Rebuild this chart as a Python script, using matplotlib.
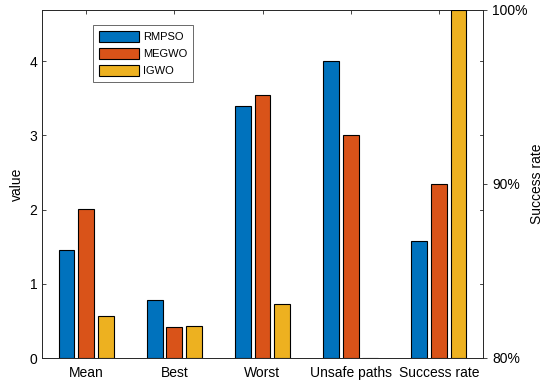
import matplotlib
matplotlib.use("Agg")
import matplotlib.pyplot as plt
import numpy as np

plt.rcParams['font.family'] = ['Liberation Sans', 'DejaVu Sans']

categories = ["Mean", "Best", "Worst", "Unsafe paths", "Success rate"]
series = ["RMPSO", "MEGWO", "IGWO"]
colors = ["#0072BD", "#D95319", "#EDB120"]
# values for the first four categories (left axis)
rmpso = [1.45, 0.785, 3.39, 4.0]
megwo = [2.01, 0.42, 3.54, 3.0]
igwo = [0.566, 0.425, 0.73, 0.0]
# success rate (right axis, %)
success = [86.7, 90.0, 100.0]

dark = "#262626"
fig = plt.figure(figsize=(5.5, 3.83), dpi=100)
W, H = 550, 383
ax = fig.add_axes([42 / W, 1 - 358 / H, (483 - 42) / W, (358 - 10) / H])
ax2 = ax.twinx()

x = np.arange(1, 6)
bw = 0.178
offs = [-0.222, 0.0, 0.222]
left_vals = [rmpso, megwo, igwo]
for i in range(3):
    ax.bar(x[:4] + offs[i], left_vals[i], width=bw, color=colors[i],
           edgecolor="black", linewidth=0.8, label=series[i], zorder=3)
    ax2.bar(x[4] + offs[i], success[i] - 80, bottom=80, width=bw, color=colors[i],
            edgecolor="black", linewidth=0.8, zorder=3)

ax.set_xlim(0.5, 5.5)
ax.set_ylim(0, 4.687)
ax.set_yticks([0, 1, 2, 3, 4])
ax.set_xticks(x)
ax.set_xticklabels(categories)
ax.tick_params(axis='both', direction='in', length=3, colors=dark, labelsize=10,
               top=True, right=False, width=0.6)
ax.tick_params(axis='x', pad=6, labelcolor='black')
ax.tick_params(axis='y', labelcolor='black')
ax.set_ylabel("value", fontsize=10, color='black')

ax2.set_ylim(80, 100)
ax2.set_yticks([80, 90, 100])
ax2.set_yticklabels(["80%", "90%", "100%"])
ax2.tick_params(axis='y', direction='out', length=3, colors=dark, labelsize=10,
                labelcolor='black', width=0.6)
ax2.set_ylabel("Success rate", fontsize=10, color='black', labelpad=2)

# mirrored left-axis ticks on right side (inward)
for v in [1, 2, 3, 4]:
    ax.plot([5.5 - 0.034, 5.5], [v, v], color=dark, lw=0.6, clip_on=False, zorder=5)

for a in (ax, ax2):
    for s in a.spines.values():
        s.set_color(dark)
        s.set_linewidth(0.6)

leg = ax.legend(loc='upper left', bbox_to_anchor=(0.1156, 0.957), fontsize=8,
                frameon=True, fancybox=False, edgecolor=dark, handlelength=3.6,
                handleheight=1.15, labelspacing=0.5, borderpad=0.55, handletextpad=0.35,
                borderaxespad=0)
leg.get_frame().set_linewidth(0.6)

fig.savefig("out.png", dpi=100)
